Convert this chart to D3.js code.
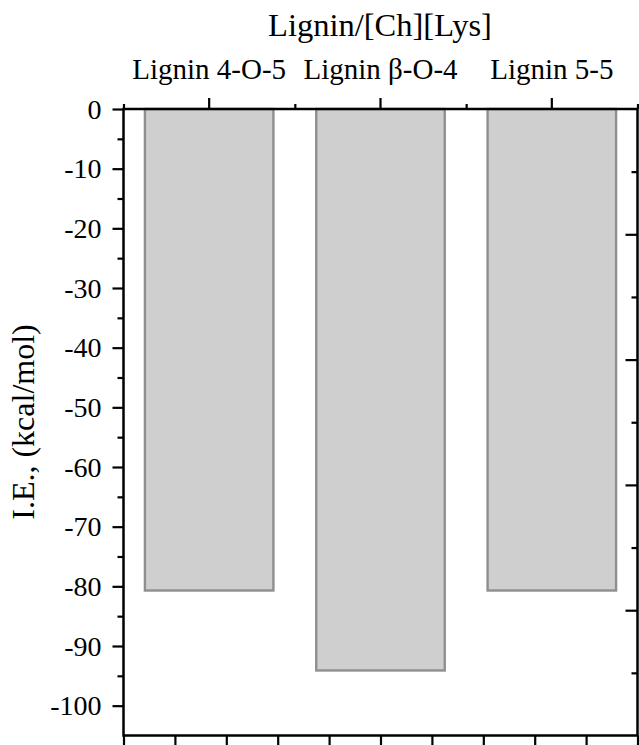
<!DOCTYPE html>
<html>
<head>
<meta charset="utf-8">
<script src="https://cdn.jsdelivr.net/npm/d3@7"></script>
<style>
  body { margin: 0; background: #fff; }
  svg { display: block; }
  .lbl { font-family: "Times New Roman", "Liberation Serif", serif; fill: #000; }
</style>
</head>
<body>
<svg width="639" height="745"></svg>
<script>
// Data
const categories = ["Lignin 4-O-5", "Lignin \u03b2-O-4", "Lignin 5-5"];
const values = [-80.7, -94.1, -80.7];
const yTicks = [0, -10, -20, -30, -40, -50, -60, -70, -80, -90, -100];

const title = "Lignin/[Ch][Lys]";
const yLabel = "I.E., (kcal/mol)";

const svg = d3.select("svg");
const plotL = 123.5, plotR = 637.5, plotT = 109, plotB = 735.5;

// Scales
const y = d3.scaleLinear().domain([-105, 0]).range([plotB, plotT]);
const x = d3.scaleBand()
    .domain(categories)
    .range([plotL, plotR])
    .paddingInner(0.25)
    .paddingOuter(0.125);

// leftover Origin-style axes on the right / bottom (0..10 scale, no labels)
const xLin = d3.scaleLinear().domain([0, 10]).range([plotL, plotR]);
const yLin = d3.scaleLinear().domain([0, 10]).range([plotT, plotB]);
const xEdges = d3.scaleLinear().domain([0, categories.length]).range([plotL, plotR]);

// Bars
svg.append("g")
    .selectAll("rect")
    .data(values)
    .join("rect")
    .attr("x", (d, i) => x(categories[i]))
    .attr("y", y(0))
    .attr("width", x.bandwidth())
    .attr("height", d => y(d) - y(0))
    .attr("fill", "#cfcfcf")
    .attr("stroke", "#8f8f8f")
    .attr("stroke-width", 2.4);

// Left axis: major + minor ticks
const yMinor = d3.range(-5, -105, -10);
svg.append("g")
    .attr("transform", `translate(${plotL},0)`)
    .call(d3.axisLeft(y).tickValues(yMinor).tickSize(6).tickFormat(""))
    .call(g => g.select(".domain").remove());
svg.append("g")
    .attr("transform", `translate(${plotL},0)`)
    .call(d3.axisLeft(y).tickValues(yTicks).tickSize(11).tickFormat(""))
    .call(g => g.select(".domain").remove());

// Left tick labels
svg.append("g")
    .selectAll("text")
    .data(yTicks)
    .join("text")
    .attr("class", "lbl")
    .attr("x", plotL - 22)
    .attr("y", d => y(d))
    .attr("dy", "0.35em")
    .attr("text-anchor", "end")
    .style("font-size", "28px")
    .text(d => d);

// Top axis: major ticks at band centres, minor ticks at band edges
svg.append("g")
    .attr("transform", `translate(0,${plotT})`)
    .call(d3.axisTop(xEdges).ticks(categories.length).tickSize(5).tickFormat(""))
    .call(g => g.select(".domain").remove());
svg.append("g")
    .attr("transform", `translate(0,${plotT})`)
    .call(d3.axisTop(x).tickSize(11).tickFormat(""))
    .call(g => g.select(".domain").remove());

// Category labels
svg.append("g")
    .selectAll("text")
    .data(categories)
    .join("text")
    .attr("class", "lbl")
    .attr("x", d => x(d) + x.bandwidth() / 2)
    .attr("y", 79)
    .attr("text-anchor", "middle")
    .style("font-size", "29px")
    .text(d => d);

// Bottom axis ticks (outward, cut by page edge)
svg.append("g")
    .attr("transform", `translate(0,${plotB})`)
    .call(d3.axisBottom(xLin).ticks(10).tickSize(12).tickFormat(""))
    .call(g => g.select(".domain").remove());

// Right axis ticks (inward), major every second
svg.append("g")
    .attr("transform", `translate(${plotR},0)`)
    .call(d3.axisLeft(yLin).tickValues(d3.range(1, 10, 2)).tickSize(6).tickFormat(""))
    .call(g => g.select(".domain").remove());
svg.append("g")
    .attr("transform", `translate(${plotR},0)`)
    .call(d3.axisLeft(yLin).tickValues(d3.range(2, 10, 2)).tickSize(12).tickFormat(""))
    .call(g => g.select(".domain").remove());

svg.selectAll(".tick line").attr("stroke", "#000").attr("stroke-width", 2.2);

// Frame
svg.append("rect")
    .attr("x", plotL)
    .attr("y", plotT)
    .attr("width", plotR - plotL)
    .attr("height", plotB - plotT)
    .attr("fill", "none")
    .attr("stroke", "#000")
    .attr("stroke-width", 2.5);

// Title
svg.append("text")
    .attr("class", "lbl")
    .attr("x", 380)
    .attr("y", 36)
    .attr("text-anchor", "middle")
    .style("font-size", "32.5px")
    .text(title);

// Y label
svg.append("text")
    .attr("class", "lbl")
    .attr("transform", "translate(34,422) rotate(-90)")
    .attr("text-anchor", "middle")
    .style("font-size", "32px")
    .text(yLabel);
</script>
</body>
</html>
